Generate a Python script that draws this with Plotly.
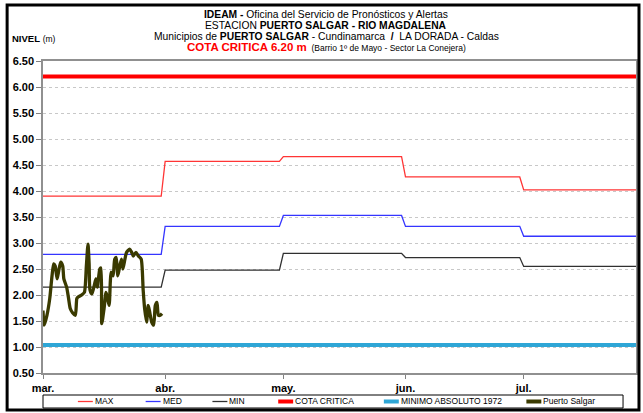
import pandas as pd
import plotly.graph_objects as go

# Monthly reference levels (m), one value per month mar..jul
months = ["2013-03-01", "2013-04-01", "2013-05-01", "2013-06-01", "2013-07-01"]
month_ends = ["2013-03-31", "2013-04-30", "2013-05-31", "2013-06-30", "2013-07-31"]
month_labels = ["mar.", "abr.", "may.", "jun.", "jul."]
nivel_max = [3.90, 4.57, 4.66, 4.27, 4.02]
nivel_med = [2.78, 3.32, 3.53, 3.32, 3.13]
nivel_min = [2.15, 2.48, 2.80, 2.72, 2.55]
cota_critica = 6.20
minimo_1972 = 1.04

# Puerto Salgar readings (march)
ps_fecha = [
    "2013-03-01 00:00", "2013-03-01 07:00", "2013-03-02 00:00", "2013-03-02 17:00",
    "2013-03-03 07:00", "2013-03-03 17:00", "2013-03-04 02:00", "2013-03-04 14:00",
    "2013-03-05 00:00", "2013-03-05 12:00", "2013-03-06 00:00", "2013-03-06 07:00",
    "2013-03-07 00:00", "2013-03-07 12:00", "2013-03-07 22:00", "2013-03-08 12:00",
    "2013-03-09 05:00", "2013-03-09 14:00", "2013-03-09 22:00", "2013-03-10 19:00",
    "2013-03-11 12:00", "2013-03-12 00:00", "2013-03-12 10:00", "2013-03-12 17:00",
    "2013-03-12 22:00", "2013-03-13 10:00", "2013-03-14 00:00", "2013-03-14 10:00",
    "2013-03-14 19:00", "2013-03-15 10:00", "2013-03-15 17:00", "2013-03-15 22:00",
    "2013-03-16 12:00", "2013-03-17 00:00", "2013-03-17 10:00", "2013-03-17 19:00",
    "2013-03-18 02:00", "2013-03-18 07:00", "2013-03-18 19:00", "2013-03-19 05:00",
    "2013-03-19 14:00", "2013-03-20 00:00", "2013-03-20 12:00", "2013-03-20 22:00",
    "2013-03-21 07:00", "2013-03-21 19:00", "2013-03-22 05:00", "2013-03-23 00:00",
    "2013-03-23 12:00", "2013-03-23 22:00", "2013-03-24 14:00", "2013-03-25 05:00",
    "2013-03-25 22:00", "2013-03-26 10:00", "2013-03-26 19:00", "2013-03-27 07:00",
    "2013-03-27 17:00", "2013-03-28 02:00", "2013-03-28 14:00", "2013-03-29 02:00",
    "2013-03-29 12:00", "2013-03-29 22:00", "2013-03-30 07:00", "2013-03-30 19:00",
    "2013-03-31 05:00",
]
ps_nivel = [
    1.70, 1.42, 1.61, 1.93, 2.37, 2.60, 2.56, 2.31,
    2.47, 2.63, 2.56, 2.31, 2.15, 1.93, 1.74, 1.66,
    1.61, 1.93, 1.96, 2.00, 2.05, 2.55, 2.98, 2.60,
    2.10, 2.02, 2.18, 2.31, 2.15, 2.50, 2.52, 1.45,
    1.74, 2.05, 1.93, 1.80, 2.25, 2.44, 2.37, 2.69,
    2.72, 2.37, 2.56, 2.69, 2.50, 2.69, 2.82, 2.88,
    2.82, 2.75, 2.82, 2.75, 2.69, 2.10, 1.74, 1.48,
    1.80, 1.67, 1.48, 1.42, 1.80, 1.86, 1.61, 1.61,
    1.64,
]

# step lines: value held from first to last day of each month
step_x = [d for pair in zip(months, month_ends) for d in pair]
def steps(vals):
    return [v for v in vals for _ in range(2)]

FONT = "Liberation Sans, Arial, sans-serif"
W, H = 643, 413
L, R, T, B = 43, 5, 61, 40
PW, PH = W - L - R, H - T - B

def px(x):
    return (x - L) / PW

def py(y):
    return (H - B - y) / PH

C_MAX, C_MED, C_MIN = "#FF3535", "#3535FF", "#303030"
C_COTA, C_MINABS, C_PS = "#FF0000", "#2EA6D6", "#3A3A00"

fig = go.Figure()
fig.add_trace(go.Scatter(x=step_x, y=steps(nivel_max), mode="lines",
                         line=dict(color=C_MAX, width=1.3), name="MAX"))
fig.add_trace(go.Scatter(x=step_x, y=steps(nivel_med), mode="lines",
                         line=dict(color=C_MED, width=1.3), name="MED"))
fig.add_trace(go.Scatter(x=step_x, y=steps(nivel_min), mode="lines",
                         line=dict(color=C_MIN, width=1.3), name="MIN"))
fig.add_trace(go.Scatter(x=[months[0], month_ends[-1]], y=[cota_critica] * 2, mode="lines",
                         line=dict(color=C_COTA, width=4), name="COTA CRITICA"))
fig.add_trace(go.Scatter(x=[months[0], month_ends[-1]], y=[minimo_1972] * 2, mode="lines",
                         line=dict(color=C_MINABS, width=4), name="MINIMO ABSOLUTO 1972"))
fig.add_trace(go.Scatter(x=ps_fecha, y=ps_nivel, mode="lines",
                         line=dict(color=C_PS, width=3.3, shape="spline", smoothing=0.6),
                         name="Puerto Salgar"))

fig.update_layout(
    width=W, height=H,
    margin=dict(l=L, r=R, t=T, b=B),
    paper_bgcolor="white", plot_bgcolor="white",
    showlegend=False,
    font=dict(family=FONT, size=11, color="black"),
)
fig.update_xaxes(
    type="date", range=["2013-03-01", "2013-07-29 12:00"],
    tickvals=months, ticktext=month_labels,
    tickfont=dict(family=FONT, size=11, color="black", weight="bold"),
    ticks="outside", ticklen=4, tickcolor="#808080",
    showgrid=False, showline=True, linecolor="#909090", linewidth=1.5, mirror=True,
    zeroline=False,
)
fig.update_yaxes(
    range=[0.5, 6.5], dtick=0.5, tickformat=".2f",
    tickfont=dict(family=FONT, size=11, color="black", weight="bold"),
    ticks="outside", ticklen=5, tickcolor="#808080",
    showgrid=True, gridcolor="#C8C8C8", griddash="dot", gridwidth=1,
    showline=True, linecolor="#909090", linewidth=1.5, mirror=True,
    zeroline=False,
)

# titles
titles = [
    ("<b>IDEAM - </b>Oficina del Servicio de Pronósticos y Alertas", 14.5),
    ("ESTACION <b>PUERTO SALGAR - RIO MAGDALENA</b>", 25.5),
    ("Municipios de <b>PUERTO SALGAR</b> - Cundinamarca  <b>/</b>  LA DORADA - Caldas", 36.5),
    ("<span style='color:#FF0000;font-size:11.5px'><b>COTA CRITICA 6.20 m</b></span>"
     "<span style='font-size:8.5px'>  (Barrio 1º de Mayo - Sector La Conejera)</span>", 47.5),
]
for text, y in titles:
    fig.add_annotation(text=text, xref="paper", yref="paper", x=px(327), y=py(y),
                       xanchor="center", yanchor="middle", showarrow=False,
                       font=dict(family=FONT, size=10.3, color="black"))

fig.add_annotation(text="<b>NIVEL</b> <span style='font-size:8.5px'>(m)</span>",
                   xref="paper", yref="paper", x=px(10), y=py(38),
                   xanchor="left", yanchor="middle", showarrow=False,
                   font=dict(family=FONT, size=9.5, color="black"))

# outer frame
fig.add_shape(type="rect", xref="paper", yref="paper",
              x0=px(7), x1=px(641), y0=py(410), y1=py(5),
              line=dict(color="black", width=3), layer="above")

# legend box
fig.add_shape(type="rect", xref="paper", yref="paper",
              x0=px(43), x1=px(625), y0=py(408), y1=py(395),
              line=dict(color="black", width=1))
leg_items = [
    (fig.data[0].name, C_MAX, 1.3, 78),
    (fig.data[1].name, C_MED, 1.3, 146),
    (fig.data[2].name, C_MIN, 1.3, 213),
    (fig.data[3].name, C_COTA, 4, 279),
    (fig.data[4].name, C_MINABS, 4, 385),
    (fig.data[5].name, C_PS, 4, 528),
]
for name, color, lw, x0 in leg_items:
    fig.add_shape(type="line", xref="paper", yref="paper",
                  x0=px(x0), x1=px(x0 + 15), y0=py(401.5), y1=py(401.5),
                  line=dict(color=color, width=lw))
    fig.add_annotation(text=name, xref="paper", yref="paper", x=px(x0 + 15), y=py(401.5),
                       xanchor="left", yanchor="middle", showarrow=False,
                       font=dict(family=FONT, size=8.5, color="black"))

fig.write_html("out.html", config={"displayModeBar": False},
               post_script="document.body.style.margin='0';")
